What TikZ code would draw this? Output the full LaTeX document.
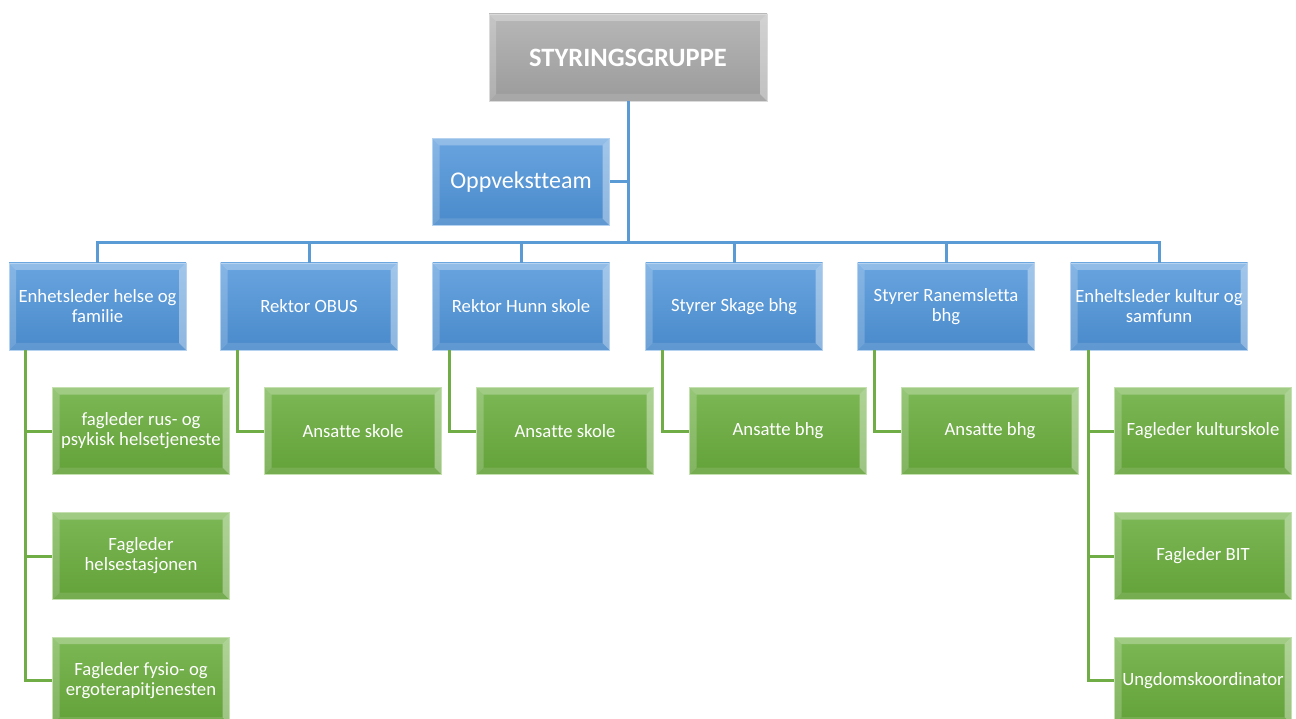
\documentclass[tikz,border=0pt]{standalone}
\usepackage{fontspec}
\setmainfont{Carlito}[Ligatures=NoCommon]
\begin{document}
\begin{tikzpicture}[x=1pt,y=-1pt,
  bevel/.style={path picture={
    \fill[white,opacity=.28] (path picture bounding box.north west) -- (path picture bounding box.north east) -- ([xshift=-7pt,yshift=-7pt]path picture bounding box.north east) -- ([xshift=7pt,yshift=-7pt]path picture bounding box.north west) -- cycle;
    \fill[white,opacity=.20] (path picture bounding box.north west) -- ([xshift=7pt,yshift=-7pt]path picture bounding box.north west) -- ([xshift=7pt,yshift=7pt]path picture bounding box.south west) -- (path picture bounding box.south west) -- cycle;
    \fill[white,opacity=.38] (path picture bounding box.north east) -- (path picture bounding box.south east) -- ([xshift=-7pt,yshift=7pt]path picture bounding box.south east) -- ([xshift=-7pt,yshift=-7pt]path picture bounding box.north east) -- cycle;
    \fill[white,opacity=.12] (path picture bounding box.south west) -- (path picture bounding box.south east) -- ([xshift=-7pt,yshift=7pt]path picture bounding box.south east) -- ([xshift=7pt,yshift=7pt]path picture bounding box.south west) -- cycle;
  }},
  box/.style={bevel, minimum width=177pt, minimum height=87pt, inner sep=0pt, align=center, text=white, font=\fontsize{18.7}{20}\selectfont},
  bluebox/.style={box, top color=blueTop, bottom color=blueBot, draw=blueEdge, line width=0.8pt},
  greenbox/.style={box, top color=greenTop, bottom color=greenBot, draw=greenEdge, line width=0.8pt},
  graybox/.style={box, minimum width=278pt, top color=grayTop, bottom color=grayBot, draw=grayEdge, line width=0.8pt, font=\fontsize{26.5}{30}\selectfont\bfseries},
  blueline/.style={draw=blueLine, line width=3pt},
  greenline/.style={draw=greenLine, line width=3pt}
]
\definecolor{blueTop}{HTML}{68A4DF}
\definecolor{blueBot}{HTML}{4A8ACB}
\definecolor{blueEdge}{HTML}{B5D3F0}
\definecolor{greenTop}{HTML}{7CB855}
\definecolor{greenBot}{HTML}{63A139}
\definecolor{greenEdge}{HTML}{C3E0AE}
\definecolor{grayTop}{HTML}{B7B7B7}
\definecolor{grayBot}{HTML}{9B9B9B}
\definecolor{grayEdge}{HTML}{DADADA}
\definecolor{blueLine}{HTML}{5B9BD5}
\definecolor{greenLine}{HTML}{70AD47}

\useasboundingbox[fill=white] (0,0) rectangle (1296,719);
\clip (0,0) rectangle (1296,719);

\coordinate (bus) at (628,243);
\coordinate (oppj) at (628,182);

\node[graybox] (top) at (628,57.5) {STYRINGSGRUPPE};
\node[bluebox, font=\fontsize{24}{28}\selectfont] (opp) at (521,182) {Oppvekstteam};

\node[bluebox] (b1) at (97.5,306.5) {Enhetsleder helse og\\familie};
\node[bluebox] (b2) at (309,306.5) {Rektor OBUS};
\node[bluebox] (b3) at (521,306.5) {Rektor Hunn skole};
\node[bluebox] (b4) at (734,306.5) {Styrer Skage bhg};
\node[bluebox] (b5) at (946,306.5) {Styrer Ranemsletta\\bhg};
\node[bluebox] (b6) at (1159,306.5) {Enheltsleder kultur og\\samfunn};

\node[greenbox] (g11) at (141,431) {fagleder rus- og\\psykisk helsetjeneste};
\node[greenbox] (g12) at (141,556) {Fagleder\\helsestasjonen};
\node[greenbox] (g13) at (141,680.5) {Fagleder fysio- og\\ergoterapitjenesten};
\node[greenbox] (g2) at (353,431) {Ansatte skole};
\node[greenbox] (g3) at (565,431) {Ansatte skole};
\node[greenbox] (g4) at (778,431) {Ansatte bhg};
\node[greenbox] (g5) at (990,431) {Ansatte bhg};
\node[greenbox] (g61) at (1203,431) {Fagleder kulturskole};
\node[greenbox] (g62) at (1203,556) {Fagleder BIT};
\node[greenbox] (g63) at (1203,680.5) {Ungdomskoordinator};

\draw[blueline] (top.south) -- (bus);
\draw[blueline] (opp.east) -- (oppj);
\draw[blueline] (bus) -| (b1.north);
\draw[blueline] (bus) -| (b2.north);
\draw[blueline] (bus) -| (b3.north);
\draw[blueline] (bus) -| (b4.north);
\draw[blueline] (bus) -| (b5.north);
\draw[blueline] (bus) -| (b6.north);

\draw[greenline] ([xshift=17pt]b1.south west) |- (g11.west);
\draw[greenline] ([xshift=17pt]b1.south west) |- (g12.west);
\draw[greenline] ([xshift=17pt]b1.south west) |- (g13.west);
\draw[greenline] ([xshift=17pt]b2.south west) |- (g2.west);
\draw[greenline] ([xshift=17pt]b3.south west) |- (g3.west);
\draw[greenline] ([xshift=17pt]b4.south west) |- (g4.west);
\draw[greenline] ([xshift=17pt]b5.south west) |- (g5.west);
\draw[greenline] ([xshift=18pt]b6.south west) |- (g61.west);
\draw[greenline] ([xshift=18pt]b6.south west) |- (g62.west);
\draw[greenline] ([xshift=18pt]b6.south west) |- (g63.west);
\end{tikzpicture}
\end{document}
